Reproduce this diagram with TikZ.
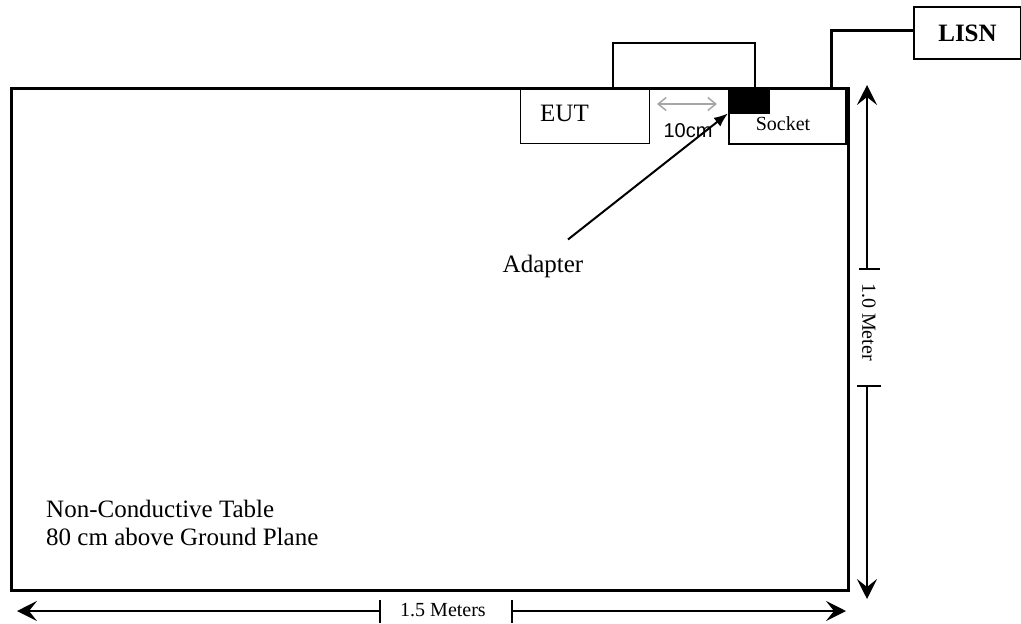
\documentclass[tikz,border=0pt]{standalone}
\usepackage{fontspec}
\setmainfont{Liberation Serif}
\newfontfamily\arialfont{Liberation Sans}
\usetikzlibrary{arrows.meta, positioning, calc}

\begin{document}
\begin{tikzpicture}[
  x=1pt, y=-1pt,
  lbl/.style={font=\fontsize{25}{28}\selectfont, inner sep=0pt},
  small/.style={font=\fontsize{20}{24}\selectfont, inner sep=0pt},
  box/.style={draw, anchor=north west, inner sep=0pt},
  dim/.style={line width=1.8pt, -{Stealth[length=20pt, width=20pt, inset=8pt]}},
  tick/.style={line width=1.8pt},
  cable/.style={line width=1.5pt},
]
  \useasboundingbox (0,0) rectangle (1021,624);

  % table
  \node[box, line width=3pt, minimum width=837pt, minimum height=502pt] (table) at (10,87) {};
  \node[lbl, align=left, anchor=north west] (tabletxt) at (46,500)
        {Non-Conductive Table\\80 cm above Ground Plane};

  % EUT, socket, adapter, LISN
  \node[box, line width=1pt, minimum width=129pt, minimum height=56pt] (eut) at (520,87) {};
  \node[lbl, anchor=west] (euttxt) at ([xshift=20pt, yshift=2pt]eut.west) {EUT};
  \node[box, line width=2pt, minimum width=117pt, minimum height=56pt] (socket) at (728,87) {};
  \node[small] (sockettxt) at (783,124) {Socket};
  \node[box, fill=black, minimum width=41pt, minimum height=25pt] (adapter) at (728,88) {};
  \node[box, line width=2pt, minimum width=107pt, minimum height=52pt,
        font=\bfseries\fontsize{25}{28}\selectfont] (lisn) at (913,6) {LISN};

  % cables
  \coordinate (eutplug) at ([xshift=93pt]eut.north west);
  \draw[cable] (eutplug) -- ++(0,-44) -| ([xshift=6.5pt]adapter.north);
  \draw[line width=3pt] ([xshift=103pt]socket.north west) |- ([yshift=3pt]lisn.west);

  % 10cm gap
  \coordinate (gapl) at (657,104);
  \coordinate (gapr) at (717,104);
  \draw[gray!70, line width=1.5pt,
        {Straight Barb[length=8pt, width=13pt]}-{Straight Barb[length=8pt, width=13pt]}] (gapl) -- (gapr);
  \node[small, font=\arialfont\fontsize{20}{24}\selectfont] (gaptxt) at (688,131) {10cm};

  % adapter pointer
  \node[lbl] (adaptertxt) at (543,266) {Adapter};
  \draw[line width=2pt, -{Latex[length=14pt, width=11pt]}]
        ([xshift=25pt, yshift=15pt]adaptertxt.north) -- (adapter.south west);

  % 1.0 Meter
  \coordinate (vtop) at (867,85);
  \coordinate (vbot) at (867,599);
  \coordinate (vt1) at (867,269);
  \coordinate (vt2) at (867,386);
  \draw[dim] (vt1) -- (vtop);
  \draw[dim] (vt2) -- (vbot);
  \draw[tick] ([xshift=-8pt]vt1) -- ([xshift=13pt]vt1);
  \draw[tick] ([xshift=-10pt]vt2) -- ([xshift=14pt]vt2);
  \node[small, rotate=-90] (vtxt) at (869,322) {1.0 Meter};

  % 1.5 Meters
  \coordinate (hl) at (17,611);
  \coordinate (hr) at (846,611);
  \coordinate (ht1) at (380,611);
  \coordinate (ht2) at (512,611);
  \draw[dim] (ht1) -- (hl);
  \draw[dim] (ht2) -- (hr);
  \draw[tick] ([yshift=11pt]ht1) -- ([yshift=-12pt]ht1);
  \draw[tick] ([yshift=11pt]ht2) -- ([yshift=-12pt]ht2);
  \node[small] (htxt) at (443,610) {1.5 Meters};
\end{tikzpicture}
\end{document}
